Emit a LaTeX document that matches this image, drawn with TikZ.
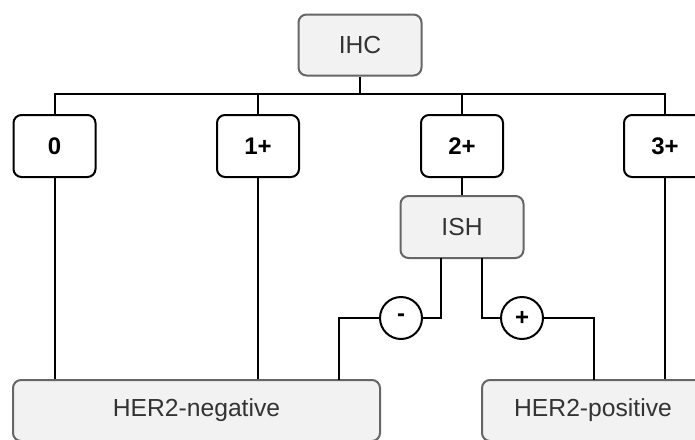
\documentclass[tikz,border=0pt]{standalone}
\usepackage{fontspec}
\setmainfont{Liberation Sans}
\begin{document}
\begin{tikzpicture}[x=0.75pt,y=-0.75pt,
  graybox/.style={draw=black!60, fill=black!5, rounded corners=6pt, text=black!80,
    font=\fontsize{18.5}{22}\selectfont, inner sep=0pt, line width=1.5pt},
  scorebox/.style={draw=black, fill=white, rounded corners=6pt, text=black,
    font=\fontsize{18}{22}\selectfont\bfseries, inner sep=0pt, line width=1.5pt,
    minimum width={82*0.75pt}, minimum height={62*0.75pt}},
  signnode/.style={circle, draw=black, fill=white, inner sep=0pt, line width=1.5pt,
    minimum size={42*0.75pt}, font=\fontsize{18}{20}\selectfont\bfseries},
  conn/.style={draw=black, line width=1.5pt}]
\useasboundingbox (0,0) rectangle (695,439);
\clip (0,0) rectangle (695,439);
\node[graybox, minimum width={123*0.75pt}, minimum height={61*0.75pt}] (ihc) at (360,45) {IHC};
\node[scorebox] (n0) at (54.5,146) {0};
\node[scorebox] (n1) at (258,146) {1+};
\node[scorebox] (n2) at (462,146) {2+};
\node[scorebox] (n3) at (665,146) {3+};
\node[graybox, minimum width={123*0.75pt}, minimum height={62*0.75pt}] (ish) at (462,227) {ISH};
\node[graybox, minimum width={367*0.75pt}, minimum height={61*0.75pt}] (neg) at (196.5,410.5) {HER2-negative};
\node[graybox, minimum width={222*0.75pt}, minimum height={61*0.75pt}] (pos) at (593,410.5) {HER2-positive};
\node[signnode] (minus) at (401,318) {-};
\node[signnode] (plus) at (522,318) {+};
\coordinate (bus) at (360,94);
\coordinate (ishl) at (441,258);
\coordinate (ishr) at (482,258);
\coordinate (negin) at (339,380);
\coordinate (posin) at (594,380);
\draw[conn] (ihc) -- (bus);
\draw[conn] (n0.north) |- (bus) -| (n3.north);
\draw[conn] (n1.north) -- (n1.north |- bus);
\draw[conn] (n2.north) -- (n2.north |- bus);
\draw[conn] (n0.south) -- (n0.south |- neg.north);
\draw[conn] (n1.south) -- (n1.south |- neg.north);
\draw[conn] (n2.south) -- (ish.north);
\draw[conn] (n3.south) -- (n3.south |- pos.north);
\draw[conn] (ishl) |- (minus.east);
\draw[conn] (minus.west) -| (negin);
\draw[conn] (ishr) |- (plus.west);
\draw[conn] (plus.east) -| (posin);
\end{tikzpicture}
\end{document}
